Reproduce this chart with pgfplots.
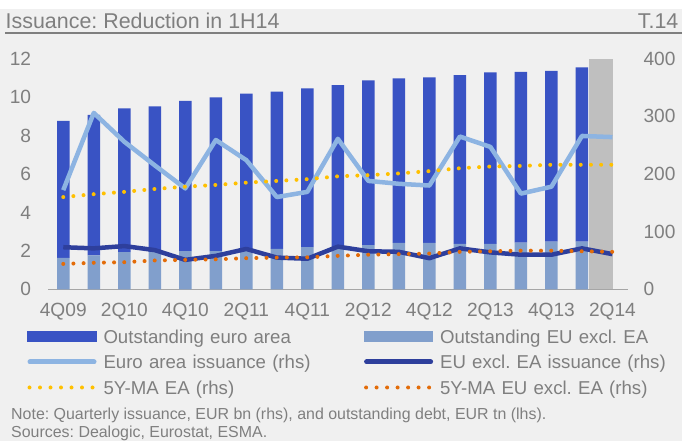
\documentclass[border=0pt]{standalone}
\usepackage{pgfplots}
\pgfplotsset{compat=1.18}
\usepackage{pgfplotstable}
\usepackage{fontspec}
\setmainfont{Liberation Sans}
\frenchspacing
\definecolor{bgray}{HTML}{F0F0F0}
\definecolor{txt}{HTML}{7F7F7F}
\definecolor{eadark}{HTML}{3953C4}
\definecolor{eulight}{HTML}{819FCC}
\definecolor{ealine}{HTML}{8DB4E2}
\definecolor{euline}{HTML}{2E3F9C}
\definecolor{maea}{HTML}{FFC000}
\definecolor{maeu}{HTML}{E36C09}
\definecolor{hl}{HTML}{BFBFBF}
\definecolor{axgray}{HTML}{A6A6A6}

\pgfplotstableread{
x euout eaout
0 1.63 7.14
1 1.77 7.31
2 1.94 7.48
3 1.95 7.57
4 1.99 7.82
5 1.99 8.00
6 2.03 8.15
7 2.10 8.18
8 2.20 8.26
9 2.12 8.51
10 2.30 8.57
11 2.41 8.57
12 2.41 8.62
13 2.36 8.79
14 2.36 8.93
15 2.43 8.89
16 2.48 8.89
17 2.48 9.07
}\bars

\pgfplotstableread{
x eaiss euiss maea maeu
0 172 73 160 44
1 306 71 165 46
2 256 75 169 47
3 215 68 174 50
4 175 51 178 51
5 259 58 181 52
6 224 70 185 54
7 160 55 188 55
8 169 53 191 55.5
9 261 74 196 58
10 188 66 198 60
11 183 65 201 61
12 180 54 205 62
13 265 71 210 65
14 247 64 213 66
15 166 60 214 67
16 178 60 216 67
17 266 71 216 66
18 264 61 216 65
}\lines

\begin{document}
\begin{tikzpicture}
\useasboundingbox (0bp,0bp) rectangle (682bp,441bp);
\fill[white] (0bp,0bp) rectangle (682bp,441bp);
\fill[bgray] (0bp,0bp) rectangle (682bp,432bp);
\node[anchor=base west, inner sep=0pt, text=txt, font=\fontsize{21.5}{21.5}\selectfont] at (5.5bp,412.7bp) {Issuance: Reduction in 1H14};
\node[anchor=base east, inner sep=0pt, text=txt, font=\fontsize{21.5}{21.5}\selectfont] at (678.5bp,412.7bp) {T.14};
\draw[color=txt, line width=2bp] (5bp,407.7bp) -- (682bp,407.7bp);
\node[anchor=base west, inner sep=0pt, text=txt, font=\fontsize{16}{16}\selectfont] at (11bp,22bp) {Note: Quarterly issuance, EUR bn (rhs), and outstanding debt, EUR tn (lhs).};
\node[anchor=base west, inner sep=0pt, text=txt, font=\fontsize{16}{16}\selectfont] at (11bp,3.6bp) {Sources: Dealogic, Eurostat, ESMA.};

\begin{axis}[
  at={(48bp,151.7bp)}, anchor=south west, scale only axis,
  width=579.7bp, height=230.6bp,
  xmin=-0.5, xmax=18.5, ymin=0, ymax=12,
  axis x line*=bottom, axis y line*=left,
  x axis line style={-, draw=axgray, line width=1.5bp},
  y axis line style={draw=none},
  major tick length=0pt,
  xtick={0,2,...,18},
  xticklabels={4Q09,2Q10,4Q10,2Q11,4Q11,2Q12,4Q12,2Q13,4Q13,2Q14},
  ytick={0,2,...,12},
  ticklabel style={font=\fontsize{19.2}{19.2}\selectfont, text=txt, inner sep=0pt},
  yticklabel style={anchor=east, xshift=-16.7bp},
  xticklabel style={anchor=north, yshift=-14bp},
  /pgf/number format/assume math mode=true,
  ybar stacked, bar width=12.5bp,
]
\addplot[fill=eulight, draw=none] table[x=x,y=euout]{\bars};
\addplot[fill=eadark, draw=none] table[x=x,y=eaout]{\bars};
\end{axis}

\begin{axis}[
  at={(48bp,151.7bp)}, anchor=south west, scale only axis,
  width=579.7bp, height=230.6bp,
  xmin=-0.5, xmax=18.5, ymin=0, ymax=400,
  axis x line=none, axis y line*=right,
  y axis line style={draw=none},
  major tick length=0pt,
  ytick={0,100,...,400},
  ticklabel style={font=\fontsize{19.2}{19.2}\selectfont, text=txt, inner sep=0pt},
  yticklabel style={anchor=west, xshift=15.7bp},
  /pgf/number format/assume math mode=true,
  legend columns=2,
  legend cell align=left,
  legend style={at={(-0.0357,-0.1665)}, anchor=north west, draw=none, fill=none,
    inner sep=0pt, outer sep=0pt, column sep=7bp, row sep=7.9bp,
    font=\fontsize{18.7}{18.7}\selectfont, text=txt,
    nodes={inner sep=0pt, text width=253.4bp, align=left, text height=15.6bp, text depth=2bp}},
]
\addplot[fill=hl, draw=none, forget plot] coordinates {(17.24,400) (18.02,400)} \closedcycle;
\addplot[ealine, line width=4.5bp, line join=round, no markers, forget plot] table[x=x,y=eaiss]{\lines};
\addplot[euline, line width=4.5bp, line join=round, no markers, forget plot] table[x=x,y=euiss]{\lines};
\addplot[maea, line width=4bp, line cap=round, dash pattern=on 0bp off 10.17bp, no markers, forget plot] table[x=x,y=maea]{\lines};
\addplot[maeu, line width=4bp, line cap=round, dash pattern=on 0bp off 10.17bp, no markers, forget plot] table[x=x,y=maeu]{\lines};

\addlegendimage{legend image code/.code={\fill[eadark] (0bp,-5bp) rectangle (68.2bp,5bp);}}
\addlegendentry{Outstanding euro area}
\addlegendimage{legend image code/.code={\fill[eulight] (0bp,-5bp) rectangle (68.2bp,5bp);}}
\addlegendentry{Outstanding EU excl. EA}
\addlegendimage{legend image code/.code={\draw[ealine, line width=5bp, line cap=round] (2.5bp,0bp) -- (66.5bp,0bp);}}
\addlegendentry{Euro area issuance (rhs)}
\addlegendimage{legend image code/.code={\draw[euline, line width=5bp, line cap=round] (2.5bp,0bp) -- (66.5bp,0bp);}}
\addlegendentry{EU excl. EA issuance (rhs)}
\addlegendimage{legend image code/.code={\draw[maea, line width=4bp, line cap=round, dash pattern=on 0bp off 10.5bp] (2bp,0bp) -- (65bp,0bp);}}
\addlegendentry{5Y-MA EA (rhs)}
\addlegendimage{legend image code/.code={\draw[maeu, line width=4bp, line cap=round, dash pattern=on 0bp off 10.5bp] (2bp,0bp) -- (65bp,0bp);}}
\addlegendentry{5Y-MA EU excl. EA (rhs)}
\end{axis}
\end{tikzpicture}
\end{document}
